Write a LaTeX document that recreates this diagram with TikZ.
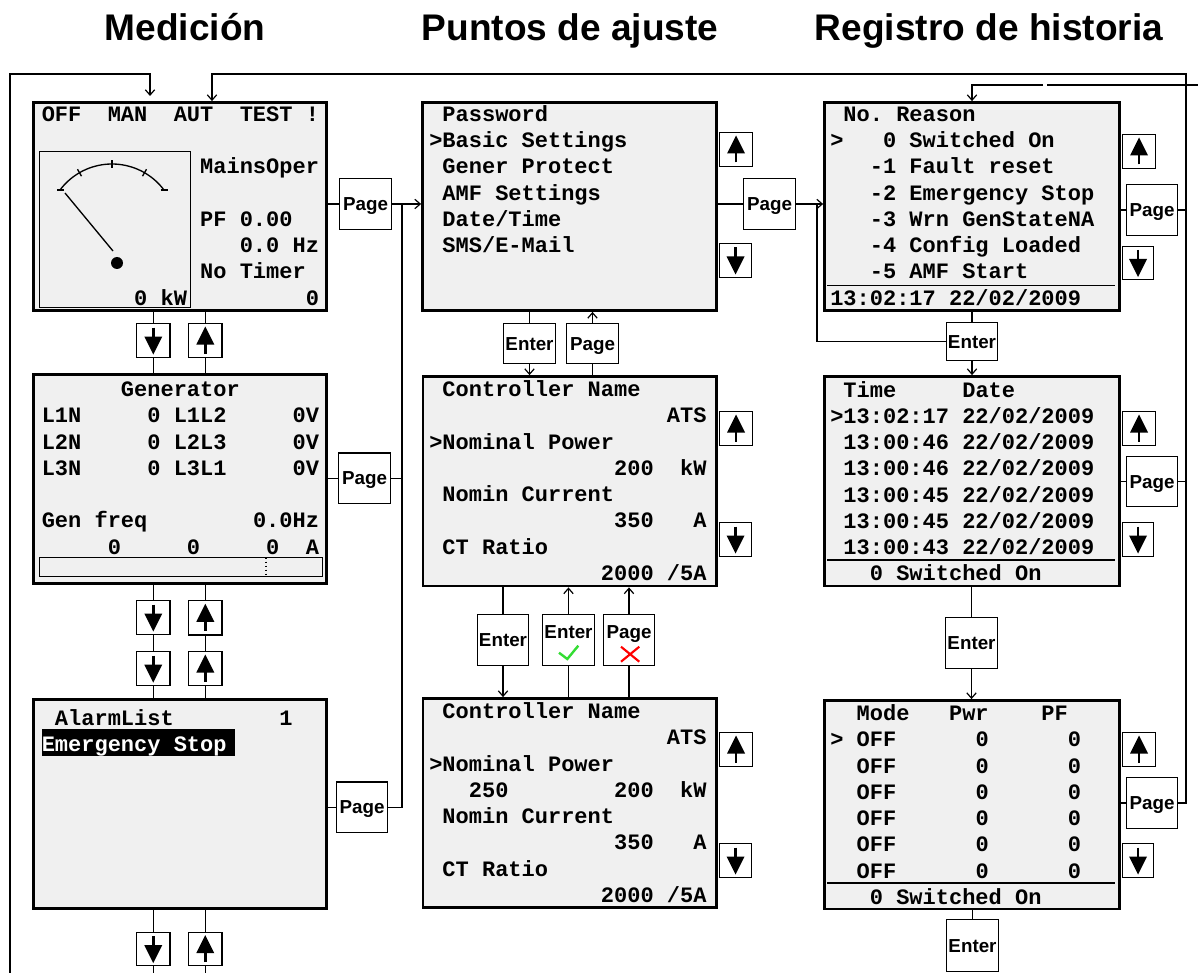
\documentclass[tikz,border=0pt]{standalone}
\usepackage{fontspec}
\setmainfont{Liberation Sans}
\setsansfont{Liberation Sans}
\setmonofont{Liberation Mono}
\usetikzlibrary{arrows.meta}
\definecolor{lcdbg}{HTML}{F0F0F0}
\definecolor{okgreen}{HTML}{33DD33}
\definecolor{nored}{HTML}{FF0000}
\tikzset{
  panel/.style={draw, fill=lcdbg, line width=2.1pt, inner sep=0pt},
  gaugebox/.style={draw, line width=1pt, inner sep=0pt},
  lcd/.style={font=\fontsize{16.5}{19}\selectfont\ttfamily\bfseries, inner sep=0pt, anchor=base west},
  btn/.style={draw, fill=white, line width=1pt, inner sep=0pt, text height=10.1pt, text depth=0pt, font=\fontsize{14.1}{16}\selectfont\sffamily\bfseries},
  btntext/.style={inner sep=0pt, text height=10.1pt, text depth=0pt, font=\fontsize{14.1}{16}\selectfont\sffamily\bfseries},
  conn/.style={line width=0.9pt},
  arr/.style={conn, -{Straight Barb[length=4pt,width=7pt]}},
  title/.style={font=\fontsize{27.8}{32}\selectfont\sffamily\bfseries, inner sep=0pt, anchor=base},
  thinline/.style={line width=1pt},
}
\newcommand\bx[7]{\node[#1, minimum width={(#5-#3)*0.75pt}, minimum height={(#6-#4)*0.75pt}] (#2) at ({(#3+#5)/2},{(#4+#6)/2}) {#7};}
\newcommand\lcdrows[4]{\foreach \rowtxt [count=\i] in {#4} {\node[lcd] (#1\i) at (#2,{#3+6.5+(\i-1)*26.25}) {\rowtxt};}}
\newcommand\upglyph[1]{\draw[line width=2.2pt] (#1.center) ++(0,13) -- ++(0,-10); \fill (#1.center) ++(-9,4) -- ++(18,0) -- ++(-9,-18) -- cycle;}
\newcommand\downglyph[1]{\draw[line width=2.2pt] (#1.center) ++(0,-13) -- ++(0,10); \fill (#1.center) ++(-9,-4) -- ++(18,0) -- ++(-9,18) -- cycle;}
\begin{document}
\begin{tikzpicture}[x=0.75pt,y=-0.75pt]
\useasboundingbox (0,0) rectangle (1198,973);
% titles
\node[title] (t1) at (185,41) {Medición};
\node[title] (t2) at (570,41) {Puntos de ajuste};
\node[title] (t3) at (989,41) {Registro de historia};
% panels
\bx{panel}{L1}{33.5}{102.5}{326.5}{310.5}{}
\bx{panel}{Gen}{33.5}{374.5}{326.5}{583.5}{}
\bx{panel}{Alarm}{33.5}{699.5}{326.5}{908.5}{}
\bx{panel}{P1}{422.5}{102.5}{716.5}{310.5}{}
\bx{panel}{P2}{423}{376.5}{716.5}{586}{}
\bx{panel}{P3}{423}{698.5}{716.5}{907.5}{}
\bx{panel}{R1}{824.5}{102.5}{1119.5}{310.5}{}
\bx{panel}{R2}{824.5}{376.5}{1119.5}{586}{}
\bx{panel}{R3}{824.5}{700.5}{1119.5}{909}{}
% gauge
\bx{gaugebox}{GB}{39.5}{151.5}{190.5}{307.5}{}
\draw[thinline] plot[domain=216.87:323.13, samples=40, smooth] ({112+65*cos(\x)},{229+65*sin(\x)});
\draw[thinline] (57,190) -- (64,190) (160.5,190) -- (167.5,190);
\foreach \a in {240,270,300} \draw[thinline] ({112+61*cos(\a)},{229+61*sin(\a)}) -- ({112+69*cos(\a)},{229+69*sin(\a)});
\draw[thinline] (65,193) -- (113,251);
\fill (117,263) circle[radius=6];
% generator bar
\draw[thinline] (39.5,557.5) rectangle (322.5,576.5);
\draw[thinline, dotted] (266,557.5) -- (266,576.5);
% alarm highlight
\fill (41.7,729) rectangle (235,755.7);
% separators
\draw[thinline] (827,285.7) -- (1115,285.7);
\draw[thinline] (827,560) -- (1115,560);
\draw[thinline] (827,883) -- (1115,883);
% texts
\lcdrows{L1t}{41.5}{115}{OFF~~MAN~~AUT~~TEST~!, {}, ~~~~~~~~~~~~MainsOper, {}, ~~~~~~~~~~~~PF~0.00, ~~~~~~~~~~~~~~~0.0~Hz, ~~~~~~~~~~~~No~Timer, ~~~~~~~0~kW~~~~~~~~~0}
\lcdrows{Gent}{41.5}{390}{~~~~~~Generator, L1N~~~~~0~L1L2~~~~~0V, L2N~~~~~0~L2L3~~~~~0V, L3N~~~~~0~L3L1~~~~~0V, {}, Gen~freq~~~~~~~~0.0Hz, ~~~~~0~~~~~0~~~~~0~~A}
\lcdrows{Alt}{41.5}{719}{~AlarmList~~~~~~~~1, \textcolor{white}{Emergency~Stop}}
\lcdrows{P1t}{429}{115}{~Password, >Basic~Settings, ~Gener~Protect, ~AMF~Settings, ~Date/Time, ~SMS/E-Mail}
\lcdrows{P2t}{429}{390}{~Controller~Name, ~~~~~~~~~~~~~~~~~~ATS, >Nominal~Power, ~~~~~~~~~~~~~~200~~kW, ~Nomin~Current, ~~~~~~~~~~~~~~350~~~A, ~CT~Ratio, ~~~~~~~~~~~~~2000~/5A}
\lcdrows{P3t}{429}{712}{~Controller~Name, ~~~~~~~~~~~~~~~~~~ATS, >Nominal~Power, ~~~250~~~~~~~~200~~kW, ~Nomin~Current, ~~~~~~~~~~~~~~350~~~A, ~CT~Ratio, ~~~~~~~~~~~~~2000~/5A}
\lcdrows{R1t}{830}{115}{~No.~Reason, >~~~0~Switched~On, ~~~-1~Fault~reset, ~~~-2~Emergency~Stop, ~~~-3~Wrn~GenStateNA, ~~~-4~Config~Loaded, ~~~-5~AMF~Start, 13:02:17~22/02/2009}
\lcdrows{R2t}{830}{390.7}{~Time~~~~~Date, >13:02:17~22/02/2009, ~13:00:46~22/02/2009, ~13:00:46~22/02/2009, ~13:00:45~22/02/2009, ~13:00:45~22/02/2009, ~13:00:43~22/02/2009, ~~~0~Switched~On}
\lcdrows{R3t}{830}{714}{~~Mode~~~Pwr~~~~PF, >~OFF~~~~~~0~~~~~~0, ~~OFF~~~~~~0~~~~~~0, ~~OFF~~~~~~0~~~~~~0, ~~OFF~~~~~~0~~~~~~0, ~~OFF~~~~~~0~~~~~~0, ~~OFF~~~~~~0~~~~~~0, ~~~0~Switched~On}
% left column buttons
\bx{btn}{D1}{136.5}{323.5}{170}{357.5}{}
\bx{btn}{U1}{188.5}{323.5}{222}{357.5}{}
\bx{btn}{D2}{136.5}{600.5}{170}{634.5}{}
\bx{btn}{U2}{188.5}{600.5}{222}{635}{}
\bx{btn}{D3}{136.5}{651.5}{170}{685.5}{}
\bx{btn}{U3}{188.5}{651.5}{222}{685.5}{}
\bx{btn}{D4}{136.5}{932.5}{170}{965.5}{}
\bx{btn}{U4}{188.5}{932.5}{222}{965.5}{}
\bx{btn}{PL1}{339.5}{178.5}{391.5}{229.5}{Page}
\bx{btn}{PL2}{338.5}{453}{390.5}{503.5}{Page}
\bx{btn}{PL3}{336.5}{782}{387.5}{832.5}{Page}
% middle column buttons
\bx{btn}{PU1}{719.5}{132.5}{752.5}{166.5}{}
\bx{btn}{PD1}{719.5}{243.5}{751.5}{277.5}{}
\bx{btn}{PP1}{743.5}{178.5}{795.5}{229.5}{Page}
\bx{btn}{E1}{503.5}{323.5}{555.5}{363.5}{Enter}
\bx{btn}{G1}{566.5}{323.5}{618.5}{363.5}{Page}
\bx{btn}{PU2}{719.5}{411.5}{752.5}{445.5}{}
\bx{btn}{PD2}{719.5}{522.5}{751.5}{556.5}{}
\bx{btn}{E2}{477.5}{614.5}{528.5}{665.5}{Enter}
\bx{btn}{E3}{542.5}{614.5}{594.5}{665.5}{}
\bx{btn}{G2}{603.5}{614.5}{654.5}{665.5}{}
\node[btntext] (E3t) at (568.5,631.7) {Enter};
\node[btntext] (G2t) at (629,631.7) {Page};
\draw[okgreen, line width=1.8pt] (559,652.7) -- (567.3,659) -- (578.3,645.7);
\draw[nored, line width=1.6pt] (621,646.7) -- (639.3,661.7) (639.3,646.7) -- (621,661.7);
\bx{btn}{PU3}{719.5}{732.5}{752.5}{766.5}{}
\bx{btn}{PD3}{719.5}{843.5}{751.5}{877.5}{}
% right column buttons
\bx{btn}{RU1}{1122.5}{134.5}{1155.5}{168.5}{}
\bx{btn}{RP1}{1126.5}{184.5}{1177.5}{235.5}{Page}
\bx{btn}{RD1}{1122.5}{246.5}{1153.5}{279.5}{}
\bx{btn}{RE1}{946.5}{322.5}{997.5}{360.5}{Enter}
\bx{btn}{RU2}{1122.5}{411.5}{1155.5}{445.5}{}
\bx{btn}{RP2}{1126.5}{456.5}{1177.5}{506.5}{Page}
\bx{btn}{RD2}{1122.5}{522.5}{1153.5}{556.5}{}
\bx{btn}{RE2}{945.5}{617.5}{997.5}{668.5}{Enter}
\bx{btn}{RU3}{1122.5}{732.5}{1155.5}{766.5}{}
\bx{btn}{RP3}{1126.5}{777.5}{1177.5}{828.5}{Page}
\bx{btn}{RD3}{1122.5}{843.5}{1153.5}{877.5}{}
\bx{btn}{RE3}{946.5}{919.5}{998.5}{971.5}{Enter}
% arrow glyphs
\downglyph{D1} \upglyph{U1} \downglyph{D2} \upglyph{U2} \downglyph{D3} \upglyph{U3} \downglyph{D4} \upglyph{U4}
\upglyph{PU1} \downglyph{PD1} \upglyph{PU2} \downglyph{PD2} \upglyph{PU3} \downglyph{PD3}
\upglyph{RU1} \downglyph{RD1} \upglyph{RU2} \downglyph{RD2} \upglyph{RU3} \downglyph{RD3}
% coordinates
\coordinate (j1) at (402,204);
\coordinate (jr) at (1186,74);
\coordinate (jl) at (212,74);
\coordinate (lb) at (10,973);
\coordinate (lt) at (10,74);
\coordinate (la) at (150,74);
\coordinate (lt2) at (150,96);
\coordinate (er) at (1198,85);
\coordinate (g1) at (1047,85);
\coordinate (g2) at (1043,85);
\coordinate (tr) at (972,85);
\coordinate (k) at (817,204);
\coordinate (bD) at (153.25,973);
\coordinate (bU) at (205.25,973);
% left column connectors
\draw[conn] (D1.north |- L1.south) -- (D1.north);
\draw[conn] (D1.south) -- (D1.south |- Gen.north);
\draw[conn] (U1.north |- L1.south) -- (U1.north);
\draw[conn] (U1.south) -- (U1.south |- Gen.north);
\draw[conn] (D2.north |- Gen.south) -- (D2.north);
\draw[conn] (D2.south) -- (D3.north);
\draw[conn] (D3.south) -- (D3.south |- Alarm.north);
\draw[conn] (U2.north |- Gen.south) -- (U2.north);
\draw[conn] (U2.south) -- (U3.north);
\draw[conn] (U3.south) -- (U3.south |- Alarm.north);
\draw[conn] (D4.north |- Alarm.south) -- (D4.north);
\draw[conn] (D4.south) -- (bD);
\draw[conn] (U4.north |- Alarm.south) -- (U4.north);
\draw[conn] (U4.south) -- (bU);
\draw[conn] (PL1.west -| L1.east) -- (PL1.west);
\draw[arr] (PL1.east) -- (PL1.east -| P1.west);
\draw[conn] (PL2.west -| Gen.east) -- (PL2.west);
\draw[conn] (PL2.east) -- (PL2.east -| j1);
\draw[conn] (PL3.west -| Alarm.east) -- (PL3.west);
\draw[conn] (PL3.east) -- (PL3.east -| j1) -- (j1);
% middle connectors
\draw[conn] (PP1.west -| P1.east) -- (PP1.west);
\draw[arr] (PP1.east) -- (PP1.east -| R1.west);
\draw[conn] (E1.north |- P1.south) -- (E1.north);
\draw[arr] (E1.south) -- (E1.south |- P2.north);
\draw[conn] (G1.south |- P2.north) -- (G1.south);
\draw[arr] (G1.north) -- (G1.north |- P1.south);
\draw[conn] (E2.north |- P2.south) -- (E2.north);
\draw[arr] (E2.south) -- (E2.south |- P3.north);
\draw[conn] (E3.south |- P3.north) -- (E3.south);
\draw[arr] (E3.north) -- (E3.north |- P2.south);
\draw[conn] (G2.south |- P3.north) -- (G2.south);
\draw[arr] (G2.north) -- (G2.north |- P2.south);
% right connectors
\draw[conn] (RP1.west -| R1.east) -- (RP1.west);
\draw[conn] (RP1.east) -- (RP1.east -| jr);
\draw[conn] (RP2.west -| R2.east) -- (RP2.west);
\draw[conn] (RP2.east) -- (RP2.east -| jr);
\draw[conn] (RP3.west -| R3.east) -- (RP3.west);
\draw[arr] (RP3.east) -- (RP3.east -| jr) -- (jr) -- (jl) -- (jl |- L1.north);
\draw[arr] (lb) -- (lt) -- (la) -- (lt2);
\draw[conn] (er) -- (g1);
\draw[arr] (g2) -- (tr) -- (tr |- R1.north);
\draw[conn] (RE1.north |- R1.south) -- (RE1.north);
\draw[arr] (RE1.south) -- (RE1.south |- R2.north);
\draw[conn] (RE1.west) -| (k);
\draw[conn] (RE2.north |- R2.south) -- (RE2.north);
\draw[arr] (RE2.south) -- (RE2.south |- R3.north);
\draw[conn] (RE3.north |- R3.south) -- (RE3.north);
\end{tikzpicture}
\end{document}
